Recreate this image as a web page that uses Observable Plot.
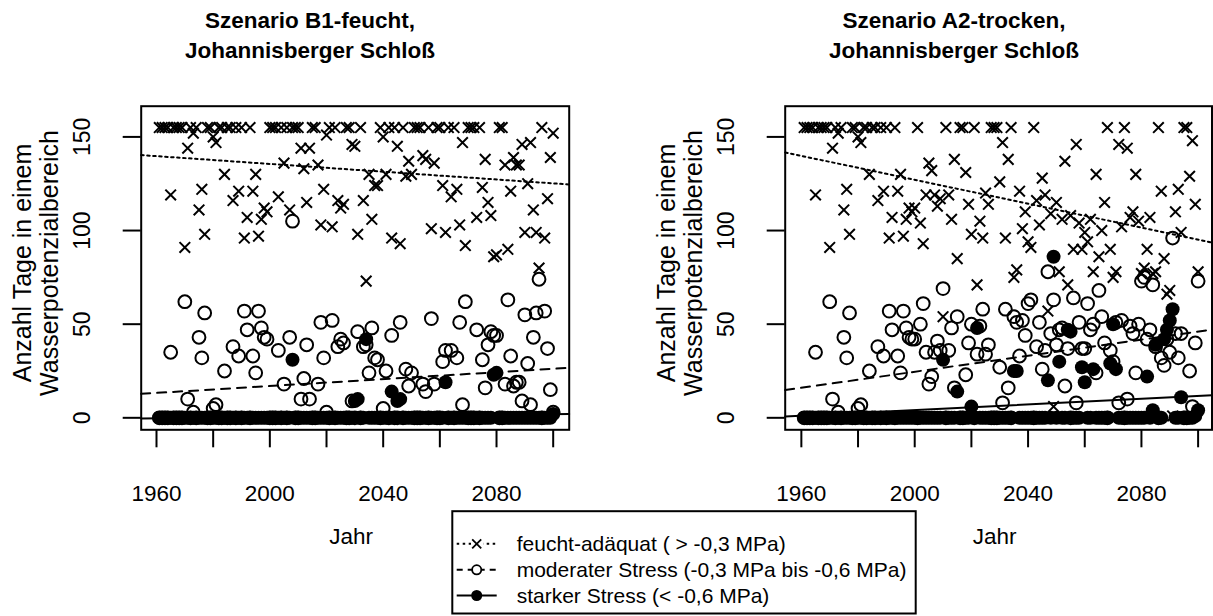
<!DOCTYPE html>
<html>
<head>
<meta charset="utf-8">
<script src="https://cdn.jsdelivr.net/npm/d3@7"></script>
<script src="https://cdn.jsdelivr.net/npm/@observablehq/plot@0.6"></script>
<style>
  body { margin: 0; background: #fff; }
  #wrap { position: relative; width: 1213px; height: 616px; overflow: hidden; background: #fff;
          font-family: "Liberation Sans", Arial, Helvetica, sans-serif; color: #000; }
  .title { position: absolute; width: 420px; text-align: center; font-weight: bold; font-size: 22.5px; line-height: 29.5px; }
  .panel { position: absolute; top: 0; }
  #legend { position: absolute; left: 451px; top: 509.5px; }
</style>
</head>
<body>
<div id="wrap">
  <div class="title" id="title1" style="left:100px; top:6px;"></div>
  <div class="title" id="title2" style="left:744px; top:6px;"></div>
  <div class="panel" id="p1" style="left:0px;"></div>
  <div class="panel" id="p2" style="left:606px;"></div>
  <div id="legend"></div>
</div>
<script>
// ---------------- data ----------------
const titles = [["Szenario B1-feucht,", "Johannisberger Schloß"], ["Szenario A2-trocken,", "Johannisberger Schloß"]];
const yLabel = "Anzahl Tage in einem\nWasserpotenzialbereich";
const xLabel = "Jahr";
const legendLabels = ["feucht-adäquat ( > -0,3 MPa)", "moderater Stress (-0,3 MPa bis -0,6 MPa)", "starker Stress (< -0,6 MPa)"];

const xTicks = [1960, 1980, 2000, 2020, 2040, 2060, 2080, 2100];
const xTickLabels = [1960, 2000, 2040, 2080];
const yTicks = [0, 50, 100, 150];

const years = [
  1961,1962,1963,1964,1965,1966,1967,1968,1969,1970,
  1971,1972,1973,1974,1975,1976,1977,1978,1979,1980,
  1981,1982,1983,1984,1985,1986,1987,1988,1989,1990,
  1991,1992,1993,1994,1995,1996,1997,1998,1999,2000,
  2001,2002,2003,2004,2005,2006,2007,2008,2009,2010,
  2011,2012,2013,2014,2015,2016,2017,2018,2019,2020,
  2021,2022,2023,2024,2025,2026,2027,2028,2029,2030,
  2031,2032,2033,2034,2035,2036,2037,2038,2039,2040,
  2041,2042,2043,2044,2045,2046,2047,2048,2049,2050,
  2051,2052,2053,2054,2055,2056,2057,2058,2059,2060,
  2061,2062,2063,2064,2065,2066,2067,2068,2069,2070,
  2071,2072,2073,2074,2075,2076,2077,2078,2079,2080,
  2081,2082,2083,2084,2085,2086,2087,2088,2089,2090,
  2091,2092,2093,2094,2095,2096,2097,2098,2099,2100
];

// Szenario B1-feucht
const b1Feucht = [
  155,155,155,155,119,155,155,155,155,91,
  144,155,152,155,111,122,98,155,155,150,
  147,155,155,130,155,155,116,155,121,155,
  96,107,155,121,130,97,106,112,110,155,
  155,155,118,155,136,155,111,155,155,155,
  144,133,115,144,155,155,135,103,122,151,
  155,102,155,116,112,114,155,155,146,145,
  98,155,116,73,130,106,124,124,155,150,
  130,155,96,155,145,93,155,129,137,130,
  155,155,155,140,138,155,101,136,155,155,
  124,99,155,118,155,122,103,147,92,155,
  155,155,107,155,123,138,115,108,86,87,
  155,155,135,90,121,139,135,135,146,99,
  125,147,111,99,80,155,96,117,139,152
];
const b1Moderat = [
  0,0,0,0,35,0,0,0,0,62,
  10,0,3,0,43,32,56,0,0,5,
  7,0,0,25,0,0,38,0,33,0,
  57,47,0,33,24,57,48,43,42,0,
  0,0,36,0,18,0,43,105,0,0,
  10,21,39,10,0,0,18,51,32,3,
  0,52,0,38,42,40,0,0,9,0,
  46,0,38,39,24,48,32,31,0,5,
  25,0,44,0,0,51,0,26,17,24,
  0,0,0,18,14,0,53,18,0,0,
  30,36,0,36,0,32,51,7,62,0,
  0,0,47,0,31,16,39,46,44,44,
  0,0,18,63,33,17,19,19,9,55,
  29,7,43,56,74,0,57,37,15,3
];
const b1Stark = [
  0,0,0,0,0,0,0,0,0,0,
  0,0,0,0,0,0,0,0,0,0,
  0,0,0,0,0,0,0,0,0,0,
  0,0,0,0,0,0,0,0,0,0,
  0,0,0,0,0,0,0,31,0,0,
  0,0,0,0,0,0,0,0,0,0,
  0,0,0,0,0,0,0,0,0,9,
  10,0,0,42,0,0,0,0,0,0,
  0,0,14,0,9,10,0,0,0,0,
  0,0,0,0,0,0,0,0,0,0,
  0,19,0,0,0,0,0,0,0,0,
  0,0,0,0,0,0,0,0,23,24,
  0,0,0,0,0,0,0,0,0,0,
  0,0,0,0,0,0,0,0,0,2
];

// Szenario A2-trocken
const a2Feucht = [
  155,155,155,155,119,155,155,155,155,91,
  144,155,152,155,111,122,98,155,155,150,
  147,155,155,130,155,155,116,155,121,155,
  96,107,155,121,130,97,106,112,110,112,
  155,104,93,119,136,132,119,113,117,54,
  155,119,106,138,85,155,155,131,114,98,
  155,71,105,96,120,114,155,155,155,126,
  147,96,138,155,75,79,121,101,110,94,
  91,155,116,103,128,119,57,109,6,115,
  78,106,137,71,108,90,146,104,90,99,
  94,106,78,130,86,100,115,155,90,75,
  78,146,102,155,144,107,110,130,105,77,
  80,90,107,77,78,155,121,85,66,68,
  1,110,122,99,155,155,129,148,114,78
];
const a2Moderat = [
  0,0,0,0,35,0,0,0,0,62,
  10,0,3,0,43,32,56,0,0,5,
  7,0,0,25,0,0,38,0,33,0,
  57,47,0,33,24,57,48,43,42,42,
  0,50,61,35,18,22,35,41,36,69,
  0,36,48,16,54,0,0,23,40,50,
  0,34,49,58,34,39,0,0,0,27,
  8,58,16,0,54,51,33,52,44,61,
  63,0,38,51,26,36,78,45,63,39,
  47,48,17,37,0,64,8,51,37,37,
  61,47,50,24,68,54,40,0,36,30,
  51,8,52,0,10,49,45,24,50,73,
  75,42,47,71,38,0,32,28,42,35,
  96,45,32,45,0,0,25,6,40,73
];
const a2Stark = [
  0,0,0,0,0,0,0,0,0,0,
  0,0,0,0,0,0,0,0,0,0,
  0,0,0,0,0,0,0,0,0,0,
  0,0,0,0,0,0,0,0,0,0,
  0,0,0,0,0,0,0,0,0,31,
  0,0,0,0,14,0,0,0,0,6,
  0,48,0,0,0,0,0,0,0,0,
  0,0,0,0,25,25,0,0,0,0,
  0,0,0,0,0,0,20,0,86,0,
  30,0,0,47,46,0,0,0,27,19,
  0,0,26,0,0,0,0,0,29,50,
  26,0,0,0,0,0,0,0,0,0,
  0,22,0,4,39,0,0,42,47,52,
  58,0,0,11,0,0,0,0,1,4
];

// linear trend lines (read at the left and right edge of each box)
const b1TrendYears = [1954.6, 2105.65];
const b1TrendFeucht = [140.3, 124.6];
const b1TrendModerat = [12.8, 26.7];
const b1TrendStark = [-0.4, 2.0];
const a2TrendYears = [1954.3, 2104.9];
const a2TrendFeucht = [141.7, 93.6];
const a2TrendModerat = [14.8, 47.1];
const a2TrendStark = [0.7, 12.0];

// ---------------- drawing ----------------
const FONT = '"Liberation Sans", Arial, Helvetica, sans-serif';
const yDomain = [-6.4, 166.4];
const DOTTED = "2.5,3.5";
const DASHED = "9,7";

function rows(f, m, s) {
  return years.map((yr, i) => ({year: yr, feucht: f[i], moderat: m[i], stark: s[i]}));
}
function trendRows(xs, ys) {
  return xs.map((x, i) => ({x: x, y: ys[i]}));
}

function panel(cfg) {
  const data = rows(cfg.feucht, cfg.moderat, cfg.stark);
  return Plot.plot({
    width: cfg.width,
    height: 616,
    marginLeft: cfg.marginLeft,
    marginRight: cfg.marginRight,
    marginTop: 105.7,
    marginBottom: 186.7,
    style: {fontFamily: FONT, background: "transparent", color: "black", overflow: "visible"},
    x: {domain: cfg.xDomain},
    y: {domain: yDomain},
    marks: [
      Plot.dot(data, {x: "year", y: "feucht", symbol: "times", r: 4.9, stroke: "black", strokeWidth: 2}),
      Plot.dot(data, {x: "year", y: "moderat", symbol: "circle", r: 6.4, stroke: "black", strokeWidth: 2, fill: "none"}),
      Plot.dot(data, {x: "year", y: "stark", symbol: "circle", r: 7, fill: "black", stroke: "none"}),
      Plot.line(trendRows(cfg.trendYears, cfg.trendF), {x: "x", y: "y", stroke: "black", strokeWidth: 2, strokeDasharray: DOTTED}),
      Plot.line(trendRows(cfg.trendYears, cfg.trendM), {x: "x", y: "y", stroke: "black", strokeWidth: 2, strokeDasharray: DASHED}),
      Plot.line(trendRows(cfg.trendYears, cfg.trendS), {x: "x", y: "y", stroke: "black", strokeWidth: 2}),
      Plot.frame({stroke: "black", strokeWidth: 2}),
      Plot.axisX({ticks: xTicks, tickSize: 18, tickPadding: 37, strokeWidth: 2, fontSize: 22.5, label: null,
                  tickFormat: d => xTickLabels.includes(d) ? String(d) : ""}),
      Plot.axisY({ticks: yTicks, tickSize: 18, strokeWidth: 2, label: null, tickFormat: () => ""}),
      Plot.text(yTicks, {y: d => d, text: d => String(d), frameAnchor: "left", textAnchor: "middle", lineAnchor: "middle",
                         dx: -59, rotate: -90, fontSize: 23}),
      Plot.text([yLabel], {text: d => d, frameAnchor: "left", textAnchor: "middle", lineAnchor: "middle",
                           dx: -105.2, dy: -5, rotate: -90, fontSize: 25, lineHeight: 1.08}),
      Plot.text([xLabel], {text: d => d, frameAnchor: "bottom", textAnchor: "middle", lineAnchor: "middle",
                           dx: -4, dy: 107, fontSize: 22.5})
    ]
  });
}

document.getElementById("title1").innerHTML = titles[0].join("<br>");
document.getElementById("title2").innerHTML = titles[1].join("<br>");

document.getElementById("p1").appendChild(panel({
  feucht: b1Feucht, moderat: b1Moderat, stark: b1Stark,
  trendYears: b1TrendYears, trendF: b1TrendFeucht, trendM: b1TrendModerat, trendS: b1TrendStark,
  width: 606, marginLeft: 140.7, marginRight: 37.3, xDomain: [b1TrendYears[0], b1TrendYears[1]]
}));
document.getElementById("p2").appendChild(panel({
  feucht: a2Feucht, moderat: a2Moderat, stark: a2Stark,
  trendYears: a2TrendYears, trendF: a2TrendFeucht, trendM: a2TrendModerat, trendS: a2TrendStark,
  width: 607, marginLeft: 178.7, marginRight: 1.5, xDomain: [a2TrendYears[0], a2TrendYears[1]]
}));

// ---------------- legend ----------------
(function () {
  const W = 466, H = 105;
  const svg = d3.select("#legend").append("svg").attr("width", W).attr("height", H)
    .style("font-family", FONT);
  svg.append("rect").attr("x", 1.3).attr("y", 1.2).attr("width", 463.4).attr("height", 102.3)
    .attr("fill", "white").attr("stroke", "black").attr("stroke-width", 2);
  const rowY = [33.8, 59.8, 85.5];
  const dash = [DOTTED, "6,5", null];
  rowY.forEach((y, i) => {
    const ln = svg.append("line").attr("x1", 5.7).attr("x2", 45.7).attr("y1", y).attr("y2", y)
      .attr("stroke", "black").attr("stroke-width", 2);
    if (dash[i]) ln.attr("stroke-dasharray", dash[i]);
    if (i === 0) {
      svg.append("rect").attr("x", 20).attr("y", y - 6).attr("width", 12).attr("height", 12).attr("fill", "white");
      svg.append("path").attr("d", d3.symbol(d3.symbolTimes, 55)()).attr("transform", `translate(25.7,${y})`)
        .attr("stroke", "black").attr("stroke-width", 1.8).attr("fill", "none");
    } else if (i === 1) {
      svg.append("circle").attr("cx", 25.7).attr("cy", y).attr("r", 4.6).attr("fill", "white")
        .attr("stroke", "black").attr("stroke-width", 1.8);
    } else {
      svg.append("circle").attr("cx", 25.7).attr("cy", y).attr("r", 5.5).attr("fill", "black");
    }
    svg.append("text").attr("x", 65.7).attr("y", y).attr("dy", "0.35em").attr("font-size", 21)
      .attr("fill", "black").text(legendLabels[i]);
  });
})();
</script>
</body>
</html>
